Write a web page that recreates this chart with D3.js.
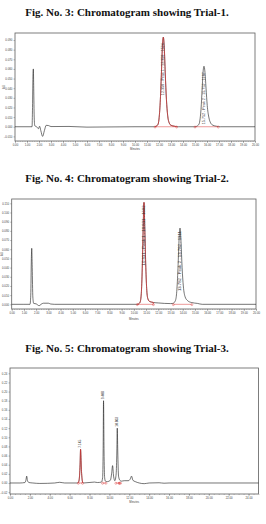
<!DOCTYPE html>
<html>
<head>
<meta charset="utf-8">
<script src="https://cdn.jsdelivr.net/npm/d3@7"></script>
<style>
  html, body { margin: 0; padding: 0; background: #fff; }
  svg { display: block; }
</style>
</head>
<body>
<div id="chart"></div>
<script>
// ---- data (minutes, AU) ----
const titles = [
  "Fig. No. 3: Chromatogram showing Trial-1.",
  "Fig. No. 4: Chromatogram showing Trial-2.",
  "Fig. No. 5: Chromatogram showing Trial-3."
];

const trial1Trace = [
  [0, 0], [1.0, 0], [1.42, 0], [1.46, 0.02], [1.5, 0.055], [1.53, 0.06], [1.56, 0.04], [1.6, 0.01],
  [1.65, 0.001], [1.8, 0], [1.95, -0.002], [2.05, 0.0005], [2.15, -0.004], [2.3, -0.010], [2.45, -0.004],
  [2.6, 0.0015], [2.8, 0.0012], [3.0, 0.0002], [4.5, 0.0003], [6.0, -0.0004], [8.0, -0.0002],
  [10.0, 0], [11.6, 0], [11.9, 0.002], [12.0, 0.008], [12.1, 0.025], [12.2, 0.055], [12.28, 0.082],
  [12.36, 0.093], [12.44, 0.082], [12.52, 0.056], [12.62, 0.028], [12.72, 0.012], [12.85, 0.004],
  [13.0, 0.0015], [13.3, 0.0005], [13.6, 0], [15.0, 0], [15.3, 0.002], [15.4, 0.006], [15.5, 0.018],
  [15.6, 0.04], [15.68, 0.058], [15.75, 0.0628], [15.82, 0.058], [15.92, 0.04], [16.02, 0.022],
  [16.15, 0.01], [16.3, 0.004], [16.5, 0.0015], [16.8, 0.0005], [17.1, 0], [20, 0]
];
const trial2Trace = [
  [0, 0], [1.0, 0], [1.5, 0], [1.56, 0.01], [1.61, 0.05], [1.64, 0.061], [1.68, 0.04], [1.73, 0.008],
  [1.8, 0.001], [2.0, 0.0005], [2.25, -0.0015], [2.4, 0], [2.6, 0.0012], [3.0, 0.0012], [3.2, 0.0003],
  [3.5, 0], [6.0, 0], [10.3, 0], [10.5, 0.002], [10.6, 0.01], [10.68, 0.035], [10.75, 0.075],
  [10.83, 0.111], [10.9, 0.08], [10.98, 0.04], [11.06, 0.015], [11.15, 0.006], [11.3, 0.003],
  [11.6, 0.002], [12.0, 0.0015], [12.5, 0.001], [13.0, 0.0008], [13.2, 0.001], [13.4, 0.004],
  [13.5, 0.012], [13.6, 0.035], [13.7, 0.07], [13.78, 0.083], [13.86, 0.068], [13.95, 0.04],
  [14.05, 0.02], [14.2, 0.008], [14.4, 0.004], [14.7, 0.002], [15.2, 0.001], [15.6, 0], [20, 0]
];
const trial3Trace = [
  [0, 0], [1.0, 0], [1.5, 0.001], [1.6, 0.006], [1.68, 0.015], [1.76, 0.005], [1.9, 0.001], [2.3, 0],
  [3.0, -0.001], [4.5, 0], [5.0, 0.0015], [5.5, 0], [6.8, 0], [6.95, 0.006], [7.05, 0.04], [7.1, 0.0737],
  [7.18, 0.03], [7.28, 0.004], [7.4, 0], [8.5, 0.002], [8.8, 0.001], [9.2, 0.002], [9.32, 0.012],
  [9.37, 0.07], [9.41, 0.18], [9.46, 0.07], [9.52, 0.012], [9.6, 0.004], [9.8, 0.003], [10.1, 0.006],
  [10.22, 0.02], [10.32, 0.038], [10.42, 0.015], [10.55, 0.005], [10.68, 0.02], [10.75, 0.07],
  [10.79, 0.12], [10.84, 0.07], [10.92, 0.015], [11.05, 0.006], [11.2, 0.004], [11.5, 0.005],
  [11.9, 0.005], [12.08, 0.008], [12.23, 0.015], [12.36, 0.006], [12.6, 0.003], [13.0, 0],
  [13.5, -0.0015], [14.0, 0], [15.0, 0.0005], [15.5, -0.0005], [16.0, 0], [25, 0]
];

// integrated peaks: [start, end] of the baseline markers, red = peak drawn in red
const trial1Peaks = [[11.67, 13.47, true], [15.0, 16.94, false]];
const trial2Peaks = [[10.28, 11.6, true], [13.23, 14.75, false]];
const trial3Peaks = [[6.87, 7.3, true], [9.31, 9.65, false], [10.65, 10.99, false], [10.99, 11.12, false]];

// peak name labels
const trial1Labels = [[12.36, 0.093, "12.358 - Peak 1 - 12.358 - 1524"], [15.75, 0.0628, "15.752 - Peak 2 - 15.752 - 1187"]];
const trial2Labels = [[10.83, 0.111, "10.831 - Peak 1 - 10.831 - 1602"], [13.78, 0.083, "13.782 - Peak 2 - 13.782 - 1311"]];
const trial3Labels = [[7.1, 0.0737, "7.145"], [9.41, 0.18, "9.408"], [10.79, 0.12, "10.803"]];

const trial1YTicks = d3.range(-0.01, 0.0901, 0.01);
const trial2YTicks = d3.range(0, 0.1101, 0.01);
const trial3YTicks = d3.range(-0.02, 0.2401, 0.02);

const width = 266, height = 524;
const red = "#d83232";

const svg = d3.select("#chart").append("svg")
  .attr("width", width)
  .attr("height", height);

function drawTitle(text, y) {
  svg.append("text")
    .attr("x", 127)
    .attr("y", y)
    .attr("text-anchor", "middle")
    .attr("font-family", "'Liberation Serif', 'Times New Roman', serif")
    .attr("font-weight", "bold")
    .attr("font-size", "11px")
    .attr("fill", "#111")
    .text(text);
}

function drawChart(c) {
  const x = d3.scaleLinear().domain(c.xDomain).range([c.left, c.right]);
  const y = d3.scaleLinear().domain(c.yDomain).range([c.bottom, c.top]);
  const g = svg.append("g");

  // frame
  g.append("rect")
    .attr("x", c.left).attr("y", c.top)
    .attr("width", c.right - c.left).attr("height", c.bottom - c.top)
    .attr("fill", "none").attr("stroke", "#5e5e5e").attr("stroke-width", 0.8);

  // x axis
  const xAxis = d3.axisBottom(x)
    .tickValues(c.xTicks)
    .tickFormat(d3.format(".2f"))
    .tickSize(2).tickPadding(1.2);
  const gx = g.append("g").attr("transform", `translate(0,${c.bottom})`).call(xAxis);
  gx.select(".domain").remove();
  gx.selectAll("line").attr("stroke", "#555").attr("stroke-width", 0.4);
  gx.selectAll("text").attr("font-size", "2.8px").attr("font-family", "Arimo, 'Liberation Sans', sans-serif").attr("fill", "#444");

  const gxm = g.append("g").attr("transform", `translate(0,${c.bottom})`)
    .call(d3.axisBottom(x).tickValues(c.xMinor).tickSize(1).tickFormat(""));
  gxm.select(".domain").remove();
  gxm.selectAll("line").attr("stroke", "#555").attr("stroke-width", 0.3);

  g.append("text")
    .attr("x", (c.left + c.right) / 2)
    .attr("y", c.minutesY)
    .attr("text-anchor", "middle")
    .attr("font-size", "2.8px")
    .attr("font-family", "Arimo, 'Liberation Sans', sans-serif")
    .attr("fill", "#444")
    .text("Minutes");

  // y axis
  const yAxis = d3.axisLeft(y)
    .tickValues(c.yTicks)
    .tickFormat(d3.format(c.yFormat))
    .tickSize(1.5).tickPadding(1.2);
  const gy = g.append("g").attr("transform", `translate(${c.left},0)`).call(yAxis);
  gy.select(".domain").remove();
  gy.selectAll("line").attr("stroke", "#555").attr("stroke-width", 0.4);
  gy.selectAll("text").attr("font-size", "2.8px").attr("font-family", "Arimo, 'Liberation Sans', sans-serif").attr("fill", "#444");

  if (c.auX) {
    g.append("text")
      .attr("transform", `translate(${c.auX},${(c.top + c.bottom) / 2}) rotate(-90)`)
      .attr("text-anchor", "middle")
      .attr("font-size", "2.8px")
      .attr("font-family", "Arimo, 'Liberation Sans', sans-serif")
      .attr("fill", "#444")
      .text("AU");
  }

  const line = d3.line()
    .x(d => x(d[0]))
    .y(d => y(d[1]))
    .curve(d3.curveMonotoneX);

  // trace
  g.append("path")
    .datum(c.trace)
    .attr("d", line)
    .attr("fill", "none")
    .attr("stroke", "#1a1a1a")
    .attr("stroke-width", 0.6);

  // integration baselines + red peaks
  c.peaks.forEach(([t0, t1, isRed]) => {
    if (isRed) {
      const seg = c.trace.filter(d => d[0] >= t0 && d[0] <= t1);
      g.append("path")
        .datum([[t0, 0], ...seg, [t1, 0]])
        .attr("d", line)
        .attr("fill", "none")
        .attr("stroke", red)
        .attr("stroke-width", 0.7);
    }
    g.append("line")
      .attr("x1", x(t0)).attr("x2", x(t1))
      .attr("y1", y(0)).attr("y2", y(0))
      .attr("stroke", red).attr("stroke-width", 0.5);
    [t0, t1].forEach(t => {
      g.append("circle")
        .attr("cx", x(t)).attr("cy", y(0) + 0.3)
        .attr("r", 1)
        .attr("fill", "none")
        .attr("stroke", red)
        .attr("stroke-width", 0.4);
    });
  });

  // peak labels (vertical)
  c.labels.forEach(([t, v, txt]) => {
    const lx = x(t) + 0.9;
    const t2 = g.append("text")
      .attr("font-size", c.labelSize)
      .attr("font-family", "Arimo, 'Liberation Sans', sans-serif")
      .attr("fill", "#333")
      .text(txt);
    if (c.labelInside) {
      // reads bottom-to-top, starting below the apex
      t2.attr("transform", `translate(${lx},${y(v) + c.labelOffset + c.labelLen}) rotate(-90)`)
        .attr("textLength", c.labelLen)
        .attr("lengthAdjust", "spacingAndGlyphs");
    } else {
      t2.attr("transform", `translate(${lx},${y(v) - 1.5}) rotate(-90)`);
    }
  });
}

drawTitle(titles[0], 15.5);
drawChart({
  left: 15, right: 255, top: 33, bottom: 141,
  xDomain: [0, 20], yDomain: [-0.0148, 0.0973],
  xTicks: d3.range(0, 20.01, 1), xMinor: d3.range(0, 20.01, 0.2),
  yTicks: trial1YTicks, yFormat: ".3f", minutesY: 150.2, auX: 4.5,
  trace: trial1Trace, peaks: trial1Peaks, labels: trial1Labels,
  labelInside: true, labelOffset: 6, labelLen: 52, labelSize: "2.6px"
});

drawTitle(titles[1], 182);
drawChart({
  left: 11.7, right: 256, top: 199, bottom: 309,
  xDomain: [0, 20], yDomain: [-0.0051, 0.1147],
  xTicks: d3.range(0, 20.01, 1), xMinor: d3.range(0, 20.01, 0.2),
  yTicks: trial2YTicks, yFormat: ".3f", minutesY: 320, auX: 3,
  trace: trial2Trace, peaks: trial2Peaks, labels: trial2Labels,
  labelInside: true, labelOffset: 3, labelLen: 60, labelSize: "2.6px"
});

drawTitle(titles[2], 352);
drawChart({
  left: 10, right: 258.5, top: 368, bottom: 494,
  xDomain: [0, 25], yDomain: [-0.0241, 0.2516],
  xTicks: d3.range(0, 24.01, 2), xMinor: d3.range(0, 25.01, 0.5),
  yTicks: trial3YTicks, yFormat: ".2f", minutesY: 502.8, auX: null,
  trace: trial3Trace, peaks: trial3Peaks, labels: trial3Labels,
  labelInside: false, labelSize: "3.2px"
});
</script>
</body>
</html>
